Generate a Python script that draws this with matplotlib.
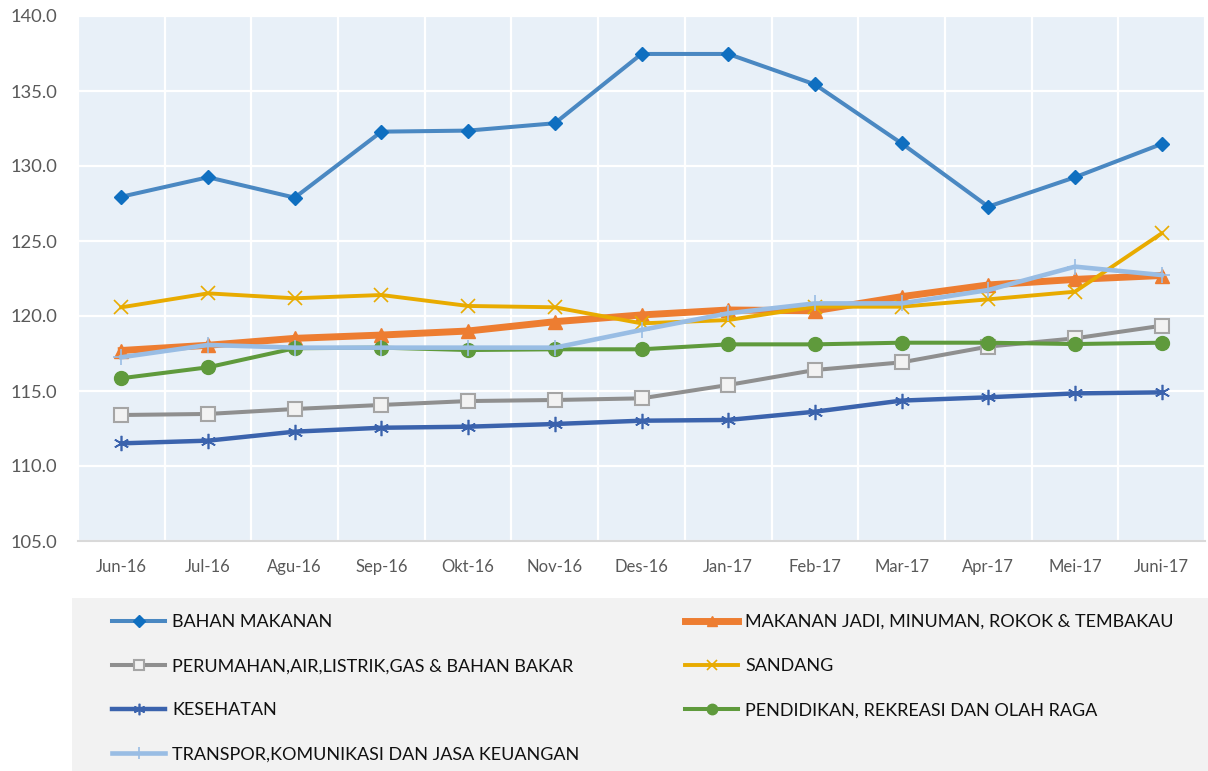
import matplotlib
matplotlib.use("Agg")
import matplotlib.pyplot as plt
from matplotlib.patches import Rectangle
from matplotlib.ticker import FixedLocator, FormatStrFormatter
import numpy as np

months = ["Jun-16", "Jul-16", "Agu-16", "Sep-16", "Okt-16", "Nov-16", "Des-16",
          "Jan-17", "Feb-17", "Mar-17", "Apr-17", "Mei-17", "Juni-17"]

bahan_makanan = [127.95, 129.25, 127.89, 132.29, 132.36, 132.85, 137.47,
                 137.47, 135.44, 131.51, 127.29, 129.25, 131.47]
makanan_jadi = [117.70, 118.05, 118.51, 118.73, 119.00, 119.62, 120.07,
                120.40, 120.35, 121.29, 122.07, 122.44, 122.70]
perumahan = [113.40, 113.47, 113.80, 114.07, 114.33, 114.40, 114.51,
             115.40, 116.40, 116.91, 117.96, 118.51, 119.35]
sandang = [120.58, 121.51, 121.18, 121.40, 120.67, 120.58, 119.51,
           119.73, 120.62, 120.62, 121.11, 121.62, 125.51]
kesehatan = [111.51, 111.69, 112.29, 112.55, 112.62, 112.80, 113.02,
             113.07, 113.62, 114.36, 114.58, 114.84, 114.91]
pendidikan = [115.85, 116.58, 117.85, 117.89, 117.73, 117.78, 117.78,
              118.11, 118.11, 118.22, 118.22, 118.13, 118.22]
transpor = [117.25, 118.07, 117.89, 117.89, 117.89, 117.89, 119.07,
            120.18, 120.84, 120.84, 121.73, 123.29, 122.73]

labels = ["BAHAN MAKANAN",
          "MAKANAN JADI, MINUMAN, ROKOK & TEMBAKAU",
          "PERUMAHAN,AIR,LISTRIK,GAS & BAHAN BAKAR",
          "SANDANG",
          "KESEHATAN",
          "PENDIDIKAN, REKREASI DAN OLAH RAGA",
          "TRANSPOR,KOMUNIKASI DAN JASA KEUANGAN"]

y_ticks = [105, 110, 115, 120, 125, 130, 135, 140]

plt.rcParams['font.family'] = ['Lato', 'DejaVu Sans']

W, H = 1208, 771
fig = plt.figure(figsize=(W / 100, H / 100), dpi=100)
fig.patch.set_facecolor('white')

# legend background
fig.patches.append(Rectangle((72 / W, 0), 1 - 72 / W, (771 - 598) / H,
                             transform=fig.transFigure, facecolor='#f2f2f2',
                             edgecolor='none', zorder=0))

ax = fig.add_axes([78 / W, 1 - 541 / H, (1205 - 78) / W, (541 - 16) / H])
ax.set_facecolor('#e8f0f8')

x = np.arange(len(months))

styles = [
    dict(color='#4a88c2', lw=2.9, marker='D', ms=7.5, mfc='#0f6fc0', mec='#0f6fc0'),
    dict(color='#ed7d31', lw=5.0, marker='^', ms=10, mfc='#ed7d31', mec='#ed7d31'),
    dict(color='#8f8f8f', lw=2.9, marker='s', ms=10, mfc='#f2f2f2', mec='#a5a5a5', mew=1.5),
    dict(color='#e8ab00', lw=2.8, marker='x', ms=10, mfc='#e8ab00', mec='#e8ab00', mew=1.2),
    dict(color='#3b63ad', lw=3.2, marker=(6, 2, 0), ms=11, mfc='#3b63ad', mec='#3b63ad', mew=1.2),
    dict(color='#5f9a3c', lw=2.9, marker='o', ms=10, mfc='#5f9a3c', mec='#5f9a3c'),
    dict(color='#99bde4', lw=3.3, marker='+', ms=12, mfc='#99bde4', mec='#99bde4', mew=1.2),
]
series = [bahan_makanan, makanan_jadi, perumahan, sandang, kesehatan, pendidikan, transpor]

handles = []
for i, (vals, st, lab) in enumerate(zip(series, styles, labels)):
    h, = ax.plot(x, vals, label=lab, zorder=3 + i, solid_joinstyle='round', **st)
    handles.append(h)

ax.set_xlim(-0.5, len(months) - 0.5)
ax.set_ylim(105, 140)
ax.yaxis.set_major_locator(FixedLocator(y_ticks))
ax.yaxis.set_major_formatter(FormatStrFormatter('%.1f'))
ax.set_xticks(x)
ax.set_xticklabels(months)
ax.xaxis.set_minor_locator(FixedLocator(np.arange(-0.5, len(months), 1.0)))

ax.grid(axis='y', which='major', color='white', lw=1.6)
ax.grid(axis='x', which='minor', color='white', lw=1.6)
ax.grid(axis='x', which='major', visible=False)
ax.set_axisbelow(True)

for s in ['top', 'right', 'left']:
    ax.spines[s].set_visible(False)
ax.spines['bottom'].set_color('#d9d9d9')
ax.spines['bottom'].set_linewidth(1.5)

ax.tick_params(axis='both', which='both', length=0)
ax.tick_params(axis='y', labelsize=13.2, labelcolor='#595959', pad=15)
ax.tick_params(axis='x', labelsize=12, labelcolor='#595959', pad=13)

fs = 13.0
fs_px = fs * 100 / 72
common = dict(loc='upper left', frameon=False, borderpad=0, borderaxespad=0,
              fontsize=fs, handlelength=53 / fs_px, handletextpad=7 / fs_px,
              labelspacing=1.56, numpoints=1, labelcolor='#111111')
col1 = [handles[i] for i in (0, 2, 4, 6)]
col2 = [handles[i] for i in (1, 3, 5)]
leg1 = fig.legend(col1, [h.get_label() for h in col1],
                  bbox_to_anchor=(112 / W, 1 - 614 / H), **common)
leg2 = fig.legend(col2, [h.get_label() for h in col2],
                  bbox_to_anchor=(685 / W, 1 - 614 / H), **common)
for leg in (leg1, leg2):
    for lh in leg.legend_handles:
        lh.set_markersize(lh.get_markersize() * 0.75)

fig.savefig('out.png', dpi=100)
